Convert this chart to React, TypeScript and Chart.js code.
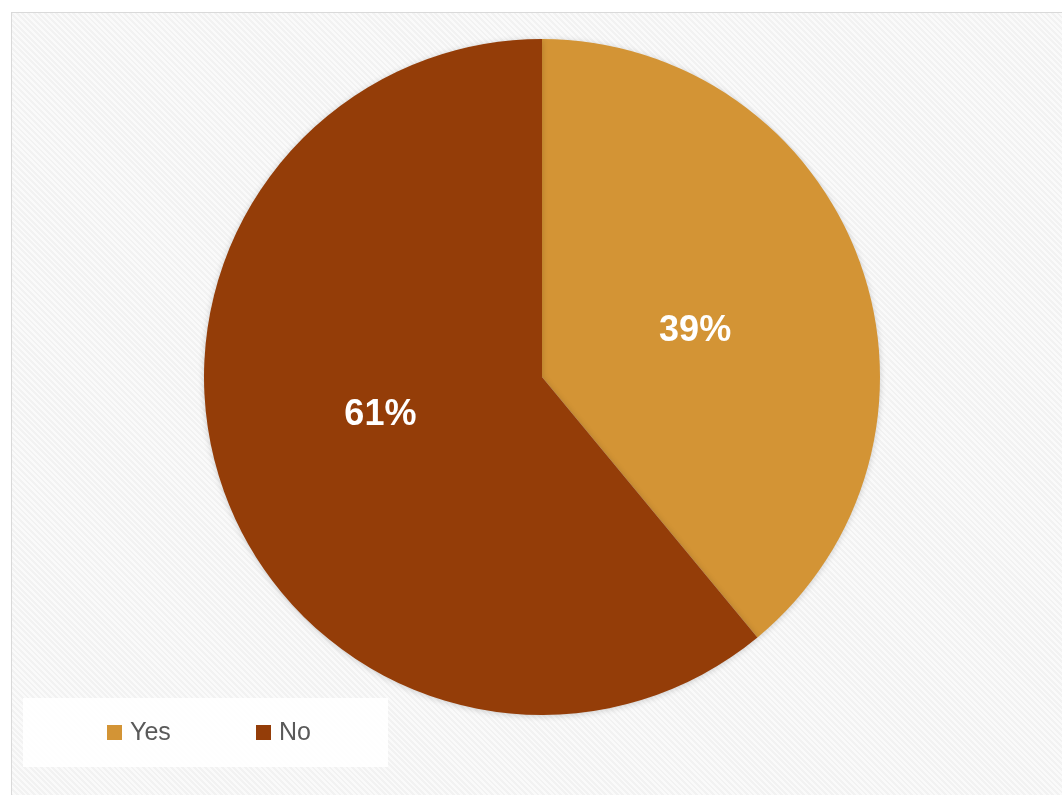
import React, { useEffect, useRef } from "react";
import { Chart, registerables } from "chart.js";

Chart.register(...registerables);

const categories = ["Yes", "No"];
const values = [39, 61];
const labelsText = ["39%", "61%"];
const colors = ["#D39435", "#943D08"];

const labelPlugin = {
  id: "sliceLabels",
  afterDatasetsDraw(chart: any) {
    const ctx = chart.ctx;
    const meta = chart.getDatasetMeta(0);
    const angleShift = [0.04, 0.125];
    const radial = [0.475, 0.49];
    ctx.save();
    ctx.fillStyle = "#ffffff";
    ctx.font = "bold 36px 'Liberation Sans', Arial, sans-serif";
    ctx.textAlign = "center";
    ctx.textBaseline = "middle";
    meta.data.forEach((arc: any, i: number) => {
      const p = arc.getProps(["x", "y", "startAngle", "endAngle", "outerRadius"], true);
      const mid = (p.startAngle + p.endAngle) / 2 + angleShift[i];
      const r = p.outerRadius * radial[i];
      ctx.fillText(labelsText[i], p.x + Math.cos(mid) * r, p.y + Math.sin(mid) * r + 2);
    });
    ctx.restore();
  },
};

const shadowPlugin = {
  id: "pieShadow",
  beforeDatasetsDraw(chart: any) {
    const ctx = chart.ctx;
    ctx.save();
    ctx.shadowColor = "rgba(0,0,0,0.18)";
    ctx.shadowBlur = 6;
    ctx.shadowOffsetX = 0;
    ctx.shadowOffsetY = 1;
  },
  afterDatasetsDraw(chart: any) {
    chart.ctx.restore();
  },
};

const legendPlugin = {
  id: "boxLegend",
  afterDraw(chart: any) {
    const ctx = chart.ctx;
    ctx.save();
    ctx.fillStyle = "rgba(255,255,255,0.92)";
    ctx.fillRect(23, 698, 365, 69);
    ctx.font = "25px 'Liberation Sans', Arial, sans-serif";
    ctx.textBaseline = "middle";
    const xs = [107, 256];
    categories.forEach((c, i) => {
      ctx.fillStyle = colors[i];
      ctx.fillRect(xs[i], 725, 15, 15);
      ctx.fillStyle = "#595959";
      ctx.fillText(c, xs[i] + 23, 733);
    });
    ctx.restore();
  },
};

export default function App() {
  const ref = useRef<HTMLCanvasElement>(null);
  useEffect(() => {
    if (!ref.current) return;
    const chart = new Chart(ref.current, {
      type: "pie",
      data: {
        labels: categories,
        datasets: [
          {
            data: values,
            backgroundColor: colors,
            borderWidth: 0,
          },
        ],
      },
      options: {
        animation: false,
        responsive: false,
        maintainAspectRatio: false,
        layout: { padding: { left: 204, right: 182, top: 39, bottom: 80 } },
        plugins: {
          legend: { display: false },
          tooltip: { enabled: false },
        },
      },
      plugins: [shadowPlugin, labelPlugin, legendPlugin],
    });
    return () => chart.destroy();
  }, []);

  return (
    <div style={{ position: "fixed", left: 0, top: 0, width: 1062, height: 795, background: "#ffffff", overflow: "hidden" }}>
      <div
        style={{
          position: "absolute",
          left: 11,
          top: 12,
          width: 1070,
          height: 800,
          border: "1px solid #d9d9d9",
          background:
            "repeating-linear-gradient(45deg, #f2f2f2 0px, #f2f2f2 2px, #fafafa 2px, #fafafa 4px)",
        }}
      />
      <canvas ref={ref} width={1062} height={795} style={{ position: "absolute", left: 0, top: 0 }} />
    </div>
  );
}
